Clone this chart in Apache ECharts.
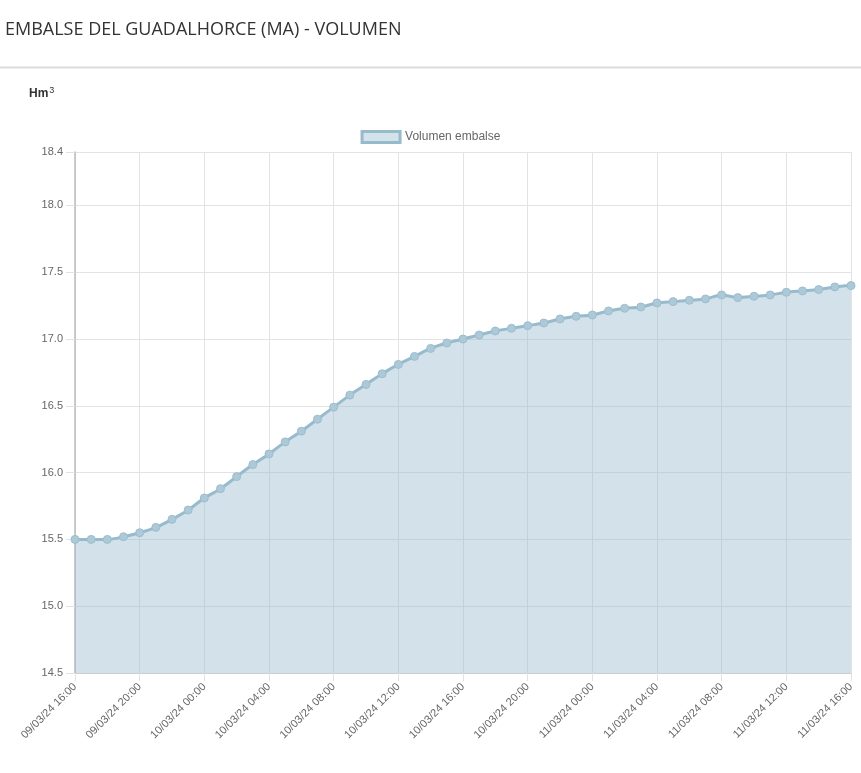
<!DOCTYPE html>
<html>
<head>
<meta charset="utf-8">
<script src="https://cdn.jsdelivr.net/npm/echarts@6/dist/echarts.min.js"></script>
<style>
html,body{margin:0;padding:0;background:#fff;}
#chart{width:861px;height:773px;}
</style>
</head>
<body>
<div id="chart"></div>
<script>
const categories = [
  '09/03/24 16:00','09/03/24 17:00','09/03/24 18:00','09/03/24 19:00','09/03/24 20:00','09/03/24 21:00','09/03/24 22:00','09/03/24 23:00',
  '10/03/24 00:00','10/03/24 01:00','10/03/24 02:00','10/03/24 03:00','10/03/24 04:00','10/03/24 05:00','10/03/24 06:00','10/03/24 07:00',
  '10/03/24 08:00','10/03/24 09:00','10/03/24 10:00','10/03/24 11:00','10/03/24 12:00','10/03/24 13:00','10/03/24 14:00','10/03/24 15:00',
  '10/03/24 16:00','10/03/24 17:00','10/03/24 18:00','10/03/24 19:00','10/03/24 20:00','10/03/24 21:00','10/03/24 22:00','10/03/24 23:00',
  '11/03/24 00:00','11/03/24 01:00','11/03/24 02:00','11/03/24 03:00','11/03/24 04:00','11/03/24 05:00','11/03/24 06:00','11/03/24 07:00',
  '11/03/24 08:00','11/03/24 09:00','11/03/24 10:00','11/03/24 11:00','11/03/24 12:00','11/03/24 13:00','11/03/24 14:00','11/03/24 15:00',
  '11/03/24 16:00'
];
const volumen = [
  15.50,15.50,15.50,15.52,15.55,15.59,15.65,15.72,15.81,15.88,
  15.97,16.06,16.14,16.23,16.31,16.40,16.49,16.58,16.66,16.74,
  16.81,16.87,16.93,16.97,17.00,17.03,17.06,17.08,17.10,17.12,
  17.15,17.17,17.18,17.21,17.23,17.24,17.27,17.28,17.29,17.30,
  17.33,17.31,17.32,17.33,17.35,17.36,17.37,17.39,17.40
];
const seriesName = 'Volumen embalse';
const titleText = 'EMBALSE DEL GUADALHORCE (MA) - VOLUMEN';

const chart = echarts.init(document.getElementById('chart'), null, {renderer:'canvas'});
const font = 'Liberation Sans, Arial, Helvetica, sans-serif';
chart.setOption({
  animation:false,
  backgroundColor:'#fff',
  graphic:[
    {type:'text', left:5, top:21, style:{text:titleText, font:'normal 18px "Open Sans", sans-serif', fill:'#333'}},
    {type:'line', shape:{x1:0,y1:67.5,x2:861,y2:67.5}, style:{stroke:'#dcdcdc', lineWidth:2}},
    {type:'text', left:29, top:86, style:{text:'Hm{sup|3}', font:'bold 12px '+font, fill:'#333',
      rich:{sup:{fontSize:9, fontWeight:'normal', fill:'#333', verticalAlign:'top', padding:[0,0,7,1], fontFamily:font}}}}
  ],
  legend:{
    top:125, left:'center', itemWidth:38, itemHeight:11, itemGap:7,
    textStyle:{color:'#666', fontSize:12, fontFamily:font},
    data:[{name:seriesName, icon:'rect', itemStyle:{color:'#d4e2ea', borderColor:'#97bbcd', borderWidth:3}}]
  },
  grid:{left:75, right:10, top:152, bottom:100, containLabel:false},
  xAxis:{
    type:'category', data:categories, boundaryGap:false,
    axisLine:{show:true, lineStyle:{color:'#ccc'}},
    axisTick:{show:true, interval:3, length:8, lineStyle:{color:'#e2e2e2'}},
    axisLabel:{interval:3, rotate:45, color:'#666', fontSize:11, fontFamily:font, margin:12},
    splitLine:{show:true, interval:3, lineStyle:{color:'#e3e3e3'}}
  },
  yAxis:{
    type:'value', min:14.5, max:18.4, interval:0.5,
    axisLine:{show:true, lineStyle:{color:'#bbb', width:1.5}},
    axisTick:{show:true, length:9, lineStyle:{color:'#e2e2e2'}},
    axisLabel:{color:'#666', fontSize:11, fontFamily:font, margin:12, formatter:v=>v.toFixed(1), showMaxLabel:true},
    splitLine:{show:true, lineStyle:{color:'#e3e3e3'}}
  },
  series:[{
    name:seriesName, type:'line', data:volumen, smooth:0.3,
    symbol:'circle', symbolSize:8, showSymbol:true,
    lineStyle:{color:'#97bbcd', width:3},
    itemStyle:{color:'#adc9d7', borderColor:'#9bbecf', borderWidth:1},
    areaStyle:{color:'rgba(151,187,205,0.42)', opacity:1},
    z:3
  }]
});
</script>
</body>
</html>
